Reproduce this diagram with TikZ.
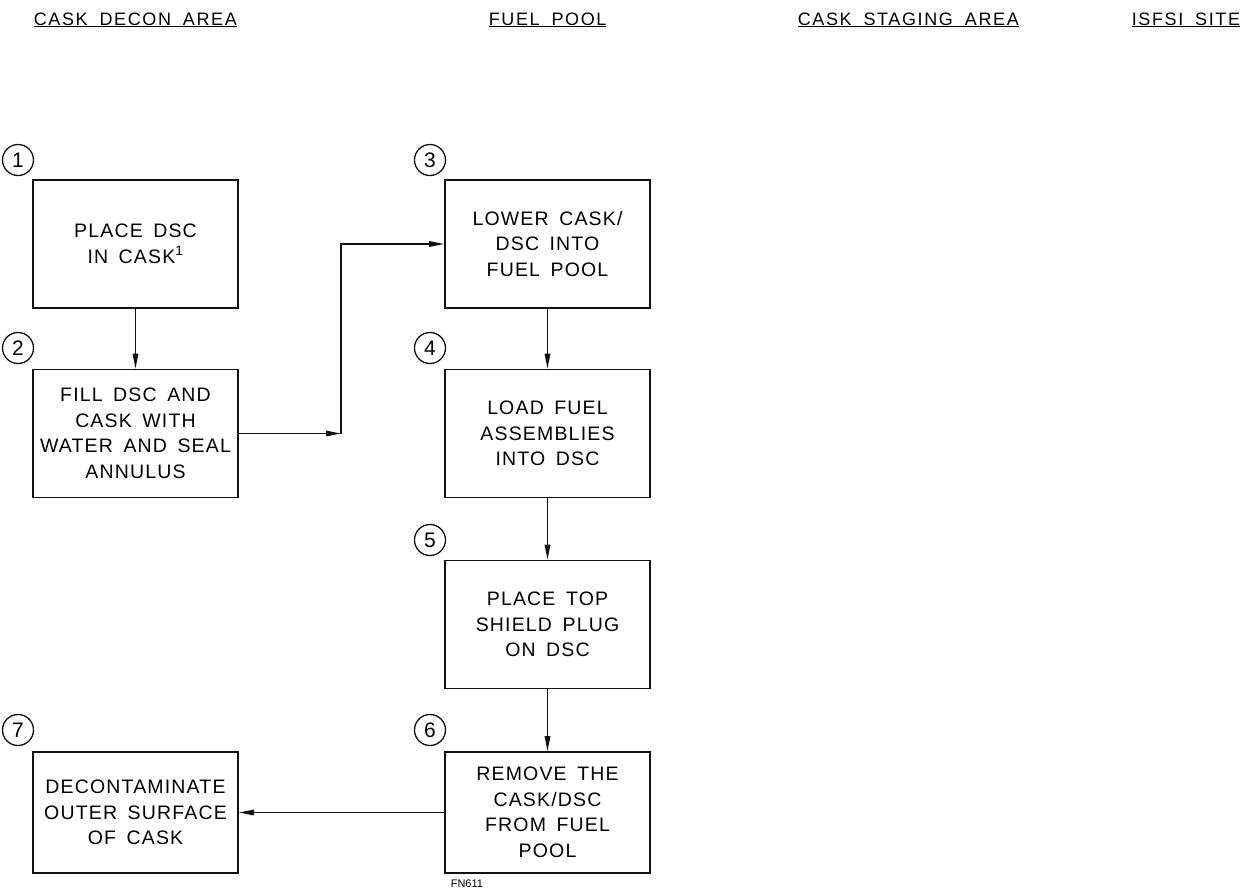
\documentclass[tikz,border=0pt]{standalone}
\usepackage{fontspec}
\setmainfont{Liberation Sans}
\newfontfamily\boxfont[LetterSpace=6, WordSpace=1.6]{Liberation Sans}
\newfontfamily\headfont[LetterSpace=9, WordSpace=1.8]{Liberation Sans}
\usetikzlibrary{arrows.meta, positioning}
\definecolor{inkblk}{HTML}{111111}

\begin{document}
\begin{tikzpicture}[x=1pt, y=-1pt, >={Triangle[length=15pt, width=5.5pt]}, line width=1.6pt,
  stepbox/.style={draw=inkblk, rectangle, minimum width=205pt, minimum height=128pt,
    align=center, font=\boxfont\fontsize{19.5}{25.5}\selectfont, inner sep=0pt},
  numcircle/.style={draw=inkblk, circle, minimum size=31pt, inner sep=0pt, line width=1.3pt,
    font=\fontsize{21}{21}\selectfont},
  areahead/.style={font=\headfont\fontsize{18}{18}\selectfont, inner sep=0pt, anchor=base west},
  flow/.style={->, draw=inkblk, line width=1.5pt}]

% Bounding box
\useasboundingbox (0,0) rectangle (1256,892);

% Area headings
\node[areahead] at (33,25) {\underline{CASK DECON AREA}};
\node[areahead] at (488,25) {\underline{FUEL POOL}};
\node[areahead] at (797,25) {\underline{CASK STAGING AREA}};
\node[areahead] at (1131,25) {\underline{ISFSI SITE}};

% Steps
\node[stepbox] (place) at (135.5,244) {PLACE DSC\\IN CASK\textsuperscript{1}};
\node[stepbox] (fill) at (135.5,433.5) {FILL DSC AND\\CASK WITH\\WATER AND SEAL\\ANNULUS};
\node[stepbox] (lower) at (547.5,244) {LOWER CASK/\\DSC INTO\\FUEL POOL};
\node[stepbox] (load) at (547.5,433.5) {LOAD FUEL\\ASSEMBLIES\\INTO DSC};
\node[stepbox] (plug) at (547.5,624.5) {PLACE TOP\\SHIELD PLUG\\ON DSC};
\node[stepbox, minimum height=121pt] (remove) at (547.5,812.5) {REMOVE THE\\CASK/DSC\\FROM FUEL\\POOL};
\node[stepbox, minimum height=121pt] (decon) at (135.5,812.5) {DECONTAMINATE\\OUTER SURFACE\\OF CASK};

% Step numbers
\node[numcircle] (n1) at (18,160) {1};
\node[numcircle] (n2) at (18,348) {2};
\node[numcircle] (n3) at (430,160) {3};
\node[numcircle] (n4) at (430,348) {4};
\node[numcircle] (n5) at (430,540) {5};
\node[numcircle] (n6) at (430,730) {6};
\node[numcircle] (n7) at (18,730) {7};

% Flow
\coordinate (jog) at (341,433.5);
\draw[flow] (place) -- (fill);
\draw[flow] (fill.east) -- (jog);
\draw[flow] (jog) |- (lower.west);
\draw[flow] (lower) -- (load);
\draw[flow] (load) -- (plug);
\draw[flow] (plug) -- (remove);
\draw[flow] (remove) -- (decon);

% Drawing number
\node[font=\fontsize{11}{11}\selectfont, anchor=north west, inner sep=0pt] (dwg) at (450,879) {FN611};

\end{tikzpicture}
\end{document}
